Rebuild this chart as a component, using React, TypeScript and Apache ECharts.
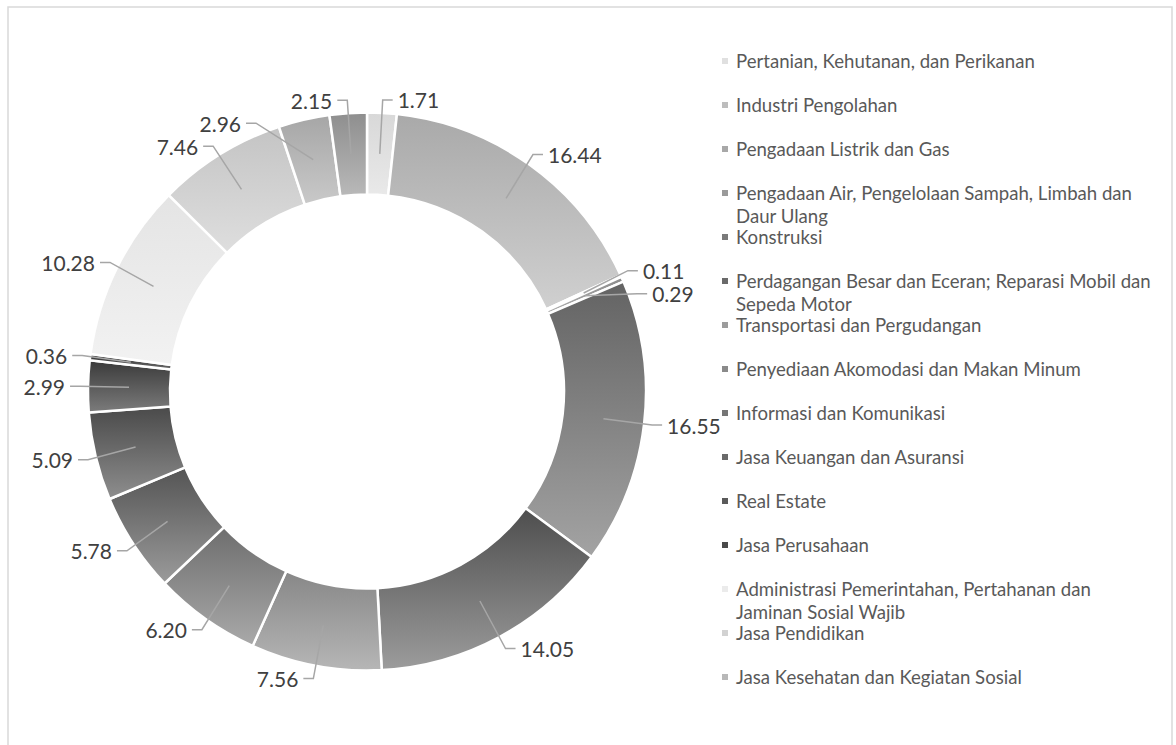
import React, { useEffect, useRef } from "react";
import * as echarts from "echarts";

const categories = [
  "Pertanian, Kehutanan, dan Perikanan",
  "Industri Pengolahan",
  "Pengadaan Listrik dan Gas",
  "Pengadaan Air, Pengelolaan Sampah, Limbah dan Daur Ulang",
  "Konstruksi",
  "Perdagangan Besar dan Eceran; Reparasi Mobil dan Sepeda Motor",
  "Transportasi dan Pergudangan",
  "Penyediaan Akomodasi dan Makan Minum",
  "Informasi dan Komunikasi",
  "Jasa Keuangan dan Asuransi",
  "Real Estate",
  "Jasa Perusahaan",
  "Administrasi Pemerintahan, Pertahanan dan Jaminan Sosial Wajib",
  "Jasa Pendidikan",
  "Jasa Kesehatan dan Kegiatan Sosial",
  "Jasa Lainnya",
];

const values = [1.71, 16.44, 0.11, 0.29, 16.55, 14.05, 7.56, 6.2, 5.78, 5.09, 2.99, 0.36, 10.28, 7.46, 2.96, 2.15];

// number of categories visible in the (truncated) legend
const legendCount = 15;

const topColors = [
  "#d8d8d8", "#a9a9a9", "#a0a0a0", "#8a8a8a", "#636363", "#4e4e4e", "#878787", "#6e6e6e",
  "#545454", "#4a4a4a", "#3a3a3a", "#2e2e2e", "#e4e4e4", "#c4c4c4", "#a6a6a6", "#8e8e8e",
];
const bottomColors = [
  "#e9e9e9", "#d0d0d0", "#c8c8c8", "#b0b0b0", "#a3a3a3", "#9c9c9c", "#b6b6b6", "#a9a9a9",
  "#9b9b9b", "#8e8e8e", "#7c7c7c", "#6a6a6a", "#f2f2f2", "#dedede", "#c9c9c9", "#b9b9b9",
];
const legendColors = [
  "#e0e0e0", "#bdbdbd", "#a8a8a8", "#9a9a9a", "#7a7a7a", "#6a6a6a", "#9c9c9c", "#8a8a8a",
  "#767676", "#6a6a6a", "#5a5a5a", "#4a4a4a", "#ebebeb", "#d2d2d2", "#b8b8b8", "#a3a3a3",
];

const LEGEND_FONT = "18.6px Lato";
const LEGEND_WRAP = 422;

function wrapText(text: string, font: string, maxWidth: number): string {
  const canvas = document.createElement("canvas");
  const ctx = canvas.getContext("2d");
  if (!ctx) return text;
  ctx.font = font;
  const words = text.split(" ");
  const lines: string[] = [];
  let cur = "";
  for (const w of words) {
    const test = cur ? cur + " " + w : w;
    if (cur && ctx.measureText(test).width > maxWidth) {
      lines.push(cur);
      cur = w;
    } else {
      cur = test;
    }
  }
  if (cur) lines.push(cur);
  return lines.join("\n");
}

export default function App() {
  const ref = useRef<HTMLDivElement>(null);

  useEffect(() => {
    if (!ref.current) return;
    const chart = echarts.init(ref.current, undefined, { renderer: "svg" });

    const cx = 367;
    const cy = 391.5;

    const ringData = values.map((v, i) => ({
      name: categories[i],
      value: v,
      itemStyle: {
        color: new echarts.graphic.LinearGradient(0, 0, 0, 1, [
          { offset: 0, color: topColors[i] },
          { offset: 1, color: bottomColors[i] },
        ]),
      },
    }));

    const labelData = values.map((v, i) => ({ name: categories[i], value: v }));

    const legendElements: any[] = [];
    const lx = 722;
    const ly0 = 61;
    const lstep = 44;
    for (let i = 0; i < legendCount; i++) {
      const y = ly0 + lstep * i;
      legendElements.push({
        type: "rect",
        shape: { x: lx, y: y - 3, width: 6, height: 6 },
        style: { fill: legendColors[i] },
        silent: true,
      });
      legendElements.push({
        type: "text",
        x: lx + 14,
        y: y - 11.5,
        style: {
          text: wrapText(categories[i], LEGEND_FONT, LEGEND_WRAP),
          fontFamily: "Lato",
          fontSize: 18.6,
          fill: "#595959",
          lineHeight: 23,
          verticalAlign: "top",
          align: "left",
        },
        silent: true,
      });
    }

    chart.setOption({
      animation: false,
      backgroundColor: "#ffffff",
      graphic: [
        {
          type: "rect",
          shape: { x: 8, y: 7, width: 1164, height: 760 },
          style: { fill: "none", stroke: "#d9d9d9", lineWidth: 1.5 },
          silent: true,
          z: -10,
        },
        ...legendElements,
      ],
      series: [
        {
          type: "pie",
          center: [cx, cy],
          radius: [197, 279],
          startAngle: 90,
          clockwise: true,
          silent: true,
          label: { show: false },
          labelLine: { show: false },
          itemStyle: { borderColor: "#ffffff", borderWidth: 2.5 },
          data: ringData,
          z: 1,
        },
        {
          type: "pie",
          center: [cx, cy],
          radius: [0, 238],
          startAngle: 90,
          clockwise: true,
          silent: true,
          itemStyle: { color: "rgba(0,0,0,0)", borderWidth: 0 },
          label: {
            show: true,
            position: "outside",
            formatter: (p: any) => Number(p.value).toFixed(2),
            fontFamily: "Lato",
            fontSize: 21,
            color: "#404040",
          },
          labelLine: {
            show: true,
            length: 54,
            length2: 10,
            smooth: false,
            lineStyle: { color: "#a6a6a6", width: 1.5 },
          },
          data: labelData,
          z: 3,
        },
      ],
    });

    return () => chart.dispose();
  }, []);

  return (
    <div
      ref={ref}
      style={{ position: "fixed", left: 0, top: 0, width: 1176, height: 745, background: "#fff" }}
    />
  );
}
